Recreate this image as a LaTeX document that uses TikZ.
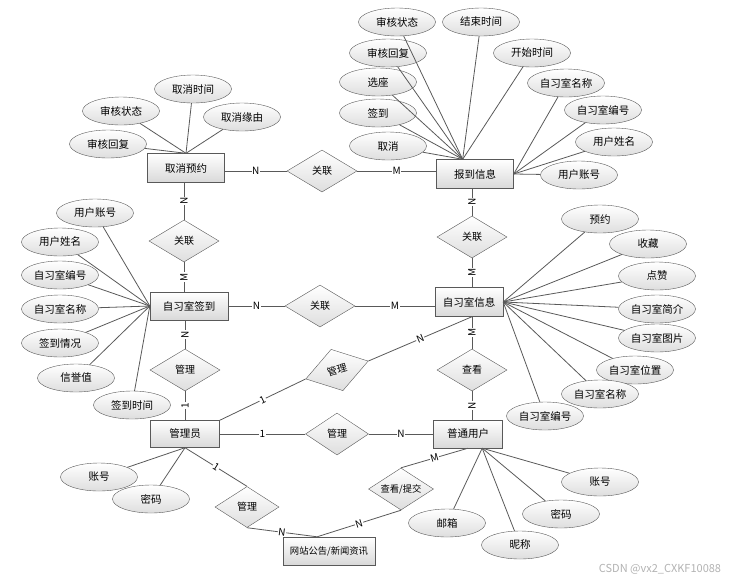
\documentclass[tikz,border=0pt]{standalone}
\usepackage{fontspec}
\setmainfont{Noto Sans CJK SC}
\usetikzlibrary{shapes.geometric}

\begin{document}
\begin{tikzpicture}[x=1pt, y=-1pt, font=\fontsize{10.5}{12}\selectfont,
	entity/.style={draw=black!65, top color=white, bottom color=black!15, minimum width=77pt, minimum height=29pt, inner sep=1pt},
	attr/.style={draw=black!65, ellipse, top color=white, bottom color=black!13, minimum width=77pt, minimum height=28pt, inner sep=0pt},
	rel/.style={draw=black!65, diamond, aspect=1.6, top color=white, bottom color=black!13, minimum width=70pt, minimum height=42pt, inner sep=0pt, font=\fontsize{10}{12}\selectfont},
	link/.style={draw=black!65, line width=0.8pt},
	card/.style={font=\fontsize{10}{10}\selectfont, fill=white, inner sep=0.6pt, text=black},
	vcard/.style={card, rotate=90}]
	\useasboundingbox (0,0) rectangle (747,582);

	% entities
	\node[entity] (qx) at (186,168) {取消预约};
	\node[entity] (bd) at (475,174) {报到信息};
	\node[entity, minimum width=78pt, minimum height=28pt] (qd) at (189,306) {自习室签到};
	\node[entity, minimum width=68pt] (info) at (469,302) {自习室信息};
	\node[entity, minimum width=69pt, minimum height=27pt] (gly) at (185,434) {管理员};
	\node[entity, minimum width=69pt, minimum height=28pt] (pt) at (468,434) {普通用户};
	\node[entity, minimum width=92pt, minimum height=28pt, font=\fontsize{9.3}{11}\selectfont] (wz) at (329,551) {网站公告/新闻资讯};

	% relations
	\node[rel] (r1) at (322,171) {关联};
	\node[rel] (r2) at (184,241) {关联};
	\node[rel] (r3) at (472,237) {关联};
	\node[rel] (r4) at (320,306) {关联};
	\node[rel] (r5) at (185,370) {管理};
	\node[rel, rotate=16, minimum width=65pt, minimum height=43pt] (r6) at (337,370) {管理};
	\node[rel] (r7) at (472,370) {查看};
	\node[rel, minimum width=63pt] (r8) at (337,434) {管理};
	\node[rel, minimum width=64pt, minimum height=41pt] (r9) at (247,507) {管理};
	\node[rel, minimum width=65pt, font=\fontsize{9.3}{11}\selectfont] (r10) at (401,489) {查看/提交};

	% attributes of 取消预约
	\node[attr] (qx1) at (108,144) {审核回复};
	\node[attr] (qx2) at (121,111) {审核状态};
	\node[attr] (qx3) at (193,89) {取消时间};
	\node[attr] (qx4) at (242,117) {取消缘由};

	% attributes of 报到信息
	\node[attr] (bd1) at (397,22) {审核状态};
	\node[attr] (bd2) at (481,22) {结束时间};
	\node[attr] (bd3) at (388,53) {审核回复};
	\node[attr] (bd4) at (532,53) {开始时间};
	\node[attr] (bd5) at (378,82) {选座};
	\node[attr] (bd6) at (378,113) {签到};
	\node[attr] (bd7) at (388,146) {取消};
	\node[attr] (bd8) at (566,83) {自习室名称};
	\node[attr] (bd9) at (603,110) {自习室编号};
	\node[attr] (bd10) at (614,142) {用户姓名};
	\node[attr] (bd11) at (579,175) {用户账号};

	% attributes of 自习室签到
	\node[attr] (qd1) at (95,213) {用户账号};
	\node[attr] (qd2) at (60,242) {用户姓名};
	\node[attr] (qd3) at (60,275) {自习室编号};
	\node[attr] (qd4) at (60,309) {自习室名称};
	\node[attr] (qd5) at (60,343) {签到情况};
	\node[attr] (qd6) at (76,378) {信誉值};
	\node[attr] (qd7) at (132,405) {签到时间};

	% attributes of 自习室信息
	\node[attr] (in1) at (600,219) {预约};
	\node[attr] (in2) at (648,244) {收藏};
	\node[attr] (in3) at (657,276) {点赞};
	\node[attr] (in4) at (657,309) {自习室简介};
	\node[attr] (in5) at (657,338) {自习室图片};
	\node[attr] (in6) at (635,370) {自习室位置};
	\node[attr] (in7) at (600,394) {自习室名称};
	\node[attr] (in8) at (545,416) {自习室编号};

	% attributes of 管理员 and 普通用户
	\node[attr] (gl1) at (99,477) {账号};
	\node[attr] (gl2) at (151,499) {密码};
	\node[attr] (pt1) at (447,523) {邮箱};
	\node[attr] (pt2) at (520,545) {昵称};
	\node[attr] (pt3) at (561,514) {密码};
	\node[attr] (pt4) at (600,482) {账号};

	\node[text=black!30, font=\fontsize{11}{12}\selectfont] (wm) at (660,569) {CSDN @vx2\_CXKF10088};

	% relation lines
	\path
	(qx.east |- r1) edge[link] node[card] {N} (r1)
	(r1) edge[link] node[card] {M} (bd.west |- r1)
	(r2 |- qx.south) edge[link] node[vcard] {N} (r2)
	(r2) edge[link] node[vcard] {M} (r2 |- qd.north)
	(r3 |- bd.south) edge[link] node[vcard] {N} (r3)
	(r3) edge[link] node[vcard] {M} (r3 |- info.north)
	(qd.east |- r4) edge[link] node[card] {N} (r4)
	(r4) edge[link] node[card] {M} (info.west |- r4)
	(r5 |- qd.south) edge[link] node[vcard] {N} (r5)
	(r5) edge[link] node[vcard] {1} (r5 |- gly.north)
	(r7 |- info.south) edge[link] node[vcard] {M} (r7)
	(r7) edge[link] node[vcard] {N} (r7 |- pt.north)
	(gly.north east) edge[link] node[card, sloped] {1} (r6.west)
	(r6.east) edge[link] node[card, sloped] {N} (r7 |- info.south)
	(gly) edge[link] node[card] {1} (r8)
	(r8) edge[link] node[card] {N} (pt)
	(gly.south) edge[link] node[card, sloped] {1} (r9.north)
	(r9.south) edge[link] node[card, sloped] {N} (wz.130)
	(pt.south) edge[link] node[card, sloped] {M} (r10.north)
	(r10.south) edge[link] node[card, sloped] {N} (wz.130);

	% attribute lines
	\path
	(qx1) edge[link] (qx.north)
	(qx2) edge[link] (qx.north)
	(qx3) edge[link] (qx.north)
	(qx4) edge[link] (qx.north)
	(bd1) edge[link] (bd.130)
	(bd2) edge[link] (bd.130)
	(bd3) edge[link] (bd.130)
	(bd4) edge[link] (bd.130)
	(bd5) edge[link] (bd.130)
	(bd6) edge[link] (bd.130)
	(bd7) edge[link] (bd.130)
	(bd8) edge[link] (bd.east)
	(bd9) edge[link] (bd.east)
	(bd10) edge[link] (bd.east)
	(bd11) edge[link] (bd.east)
	(qd1) edge[link] (qd.west)
	(qd2) edge[link] (qd.west)
	(qd3) edge[link] (qd.west)
	(qd4) edge[link] (qd.west)
	(qd5) edge[link] (qd.west)
	(qd6) edge[link] (qd.west)
	(qd7) edge[link] (qd.west)
	(in1) edge[link] (info.east)
	(in2) edge[link] (info.east)
	(in3) edge[link] (info.east)
	(in4) edge[link] (info.east)
	(in5) edge[link] (info.east)
	(in6) edge[link] (info.east)
	(in7) edge[link] (info.east)
	(in8) edge[link] (info.east)
	(gl1) edge[link] (gly.south)
	(gl2) edge[link] (gly.south)
	(pt1) edge[link] (pt.-45)
	(pt2) edge[link] (pt.-45)
	(pt3) edge[link] (pt.-45)
	(pt4) edge[link] (pt.-45);
\end{tikzpicture}
\end{document}
